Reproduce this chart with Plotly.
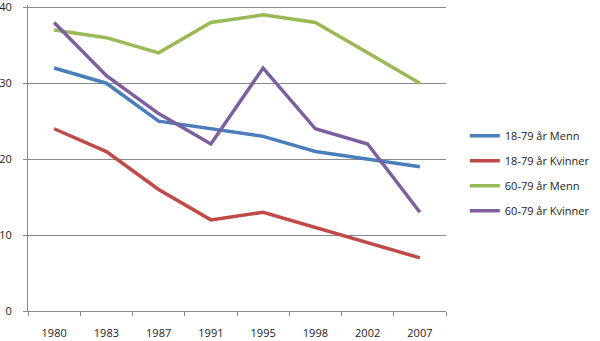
import plotly.graph_objects as go

years = ["1980", "1983", "1987", "1991", "1995", "1998", "2002", "2007"]
menn_18_79 = [32, 30, 25, 24, 23, 21, 20, 19]
kvinner_18_79 = [24, 21, 16, 12, 13, 11, 9, 7]
menn_60_79 = [37, 36, 34, 38, 39, 38, 34, 30]
kvinner_60_79 = [38, 31, 26, 22, 32, 24, 22, 13]
y_ticks = [0, 10, 20, 30, 40]

series = [
    ("18-79 år Menn", menn_18_79, "#4A7EBB"),
    ("18-79 år Kvinner", kvinner_18_79, "#BE4B48"),
    ("60-79 år Menn", menn_60_79, "#98B954"),
    ("60-79 år Kvinner", kvinner_60_79, "#7D5FA0"),
]

fig = go.Figure()
for i, (name, vals, col) in enumerate(series):
    fig.add_trace(go.Scatter(x=years, y=vals, name=name, mode="lines",
                             line=dict(color=col, width=3.5),
                             legendgroup=f"g{i}"))

fig.update_layout(
    width=600, height=341,
    margin=dict(l=28, r=147, t=5, b=30),
    paper_bgcolor="white", plot_bgcolor="white",
    font=dict(family="Open Sans", size=11, color="#222"),
    showlegend=True,
    legend=dict(x=1.045, xanchor="left", y=0.45, yanchor="middle",
                traceorder="grouped", tracegroupgap=6,
                font=dict(size=11), itemwidth=30),
    xaxis=dict(type="category", range=[-0.5, 7.5], showgrid=False, automargin=False,
               showline=True, linecolor="#888", linewidth=1,
               ticks="outside", tickson="boundaries", ticklen=4, tickcolor="#888",
               ticklabelstandoff=12, ticklabeloverflow="allow", tickfont=dict(size=11)),
    yaxis=dict(range=[0, 40.3], tickvals=y_ticks, showgrid=True, gridcolor="#888", gridwidth=1,
               automargin=False,
               showline=True, linecolor="#888", linewidth=1,
               ticks="outside", ticklen=4, tickcolor="#888", zeroline=False,
               ticklabelstandoff=9, ticklabeloverflow="allow", tickfont=dict(size=11)),
)

fig.write_html("out.html")
